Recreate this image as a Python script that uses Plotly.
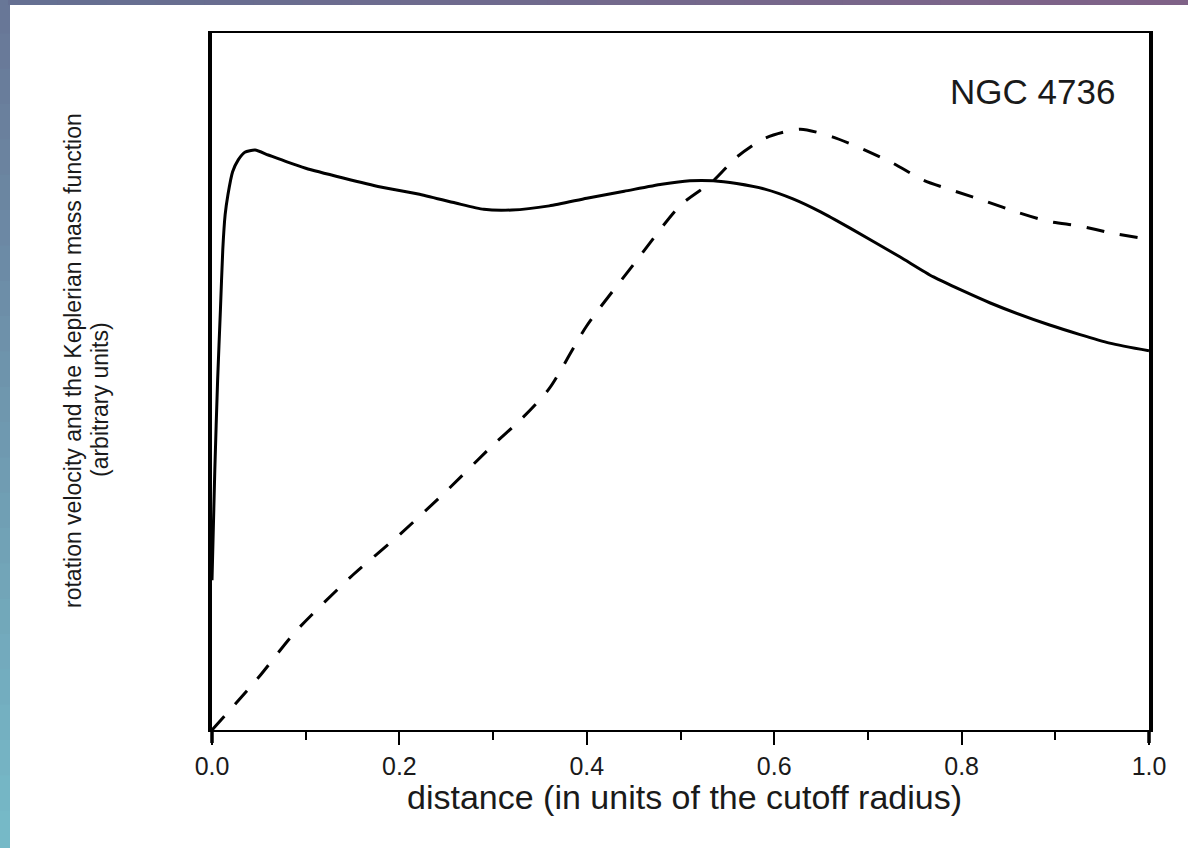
import plotly.graph_objects as go

# ---- data ----
solid_x = [0.0, 0.003, 0.006, 0.009, 0.0115, 0.014, 0.017, 0.022, 0.028, 0.035, 0.046,
           0.06, 0.08, 0.1, 0.14, 0.18, 0.22, 0.26, 0.29, 0.32, 0.36, 0.40, 0.44, 0.48,
           0.51, 0.535, 0.56, 0.59, 0.62, 0.65, 0.681, 0.734, 0.770, 0.830, 0.894, 0.958, 1.0]
solid_y = [0.215, 0.373, 0.502, 0.603, 0.689, 0.739, 0.768, 0.801, 0.818, 0.829, 0.832,
           0.825, 0.815, 0.806, 0.792, 0.779, 0.769, 0.756, 0.747, 0.746, 0.752, 0.763, 0.773, 0.783,
           0.788, 0.788, 0.784, 0.776, 0.762, 0.743, 0.720, 0.679, 0.650, 0.613, 0.581, 0.555, 0.544]

dash_x = [0.0, 0.05, 0.089, 0.15, 0.20, 0.251, 0.30, 0.33, 0.36, 0.40, 0.45, 0.50, 0.535,
          0.56, 0.59, 0.628, 0.662, 0.692, 0.727, 0.759, 0.793, 0.827, 0.859, 0.892, 0.926, 0.960, 1.0]
dash_y = [0.0, 0.076, 0.141, 0.222, 0.280, 0.344, 0.409, 0.446, 0.490, 0.580, 0.668, 0.753, 0.788,
          0.822, 0.849, 0.862, 0.851, 0.835, 0.813, 0.789, 0.773, 0.758, 0.743, 0.730, 0.723, 0.713, 0.704]

x_tickvals = [0.0, 0.2, 0.4, 0.6, 0.8, 1.0]
x_ticktext = ["0.0", "0.2", "0.4", "0.6", "0.8", "1.0"]

label_text = "NGC 4736"
x_title = "distance (in units of the cutoff radius)"
y_title_1 = "rotation velocity and the Keplerian mass function"
y_title_2 = "(arbitrary units)"

FONT = "Liberation Sans, Arial, sans-serif"

fig = go.Figure()
fig.add_trace(go.Scatter(x=solid_x, y=solid_y, mode="lines",
                         line=dict(color="black", width=3, shape="spline", smoothing=0.6),
                         showlegend=False, hoverinfo="skip"))
fig.add_trace(go.Scatter(x=dash_x, y=dash_y, mode="lines",
                         line=dict(color="black", width=3, dash="18px,16px", shape="spline", smoothing=0.7),
                         showlegend=False, hoverinfo="skip"))

# plot area geometry (pixels)
L, R, T, B = 212, 1149, 33, 730
W, H = 1188, 848
pw, ph = R - L, B - T


def px2x(px):
    return (px - L) / pw


def px2y(py):
    return (B - py) / ph


shapes = []
# gradient frame strips (decorative background)
n = 24
c_top = (104, 118, 150)
c_bot = (118, 186, 200)
for i in range(n):
    t = (i + 0.5) / n
    c = tuple(int(round(a + (b - a) * t)) for a, b in zip(c_top, c_bot))
    y0 = px2y(i * H / n - 2)
    y1 = px2y((i + 1) * H / n + 2)
    shapes.append(dict(type="rect", xref="paper", yref="paper", x0=px2x(-2), x1=px2x(10),
                       y0=y1, y1=y0, fillcolor="rgb(%d,%d,%d)" % c, line=dict(width=0), layer="below"))
c_l = (100, 112, 146)
c_r = (128, 98, 135)
for i in range(n):
    t = (i + 0.5) / n
    c = tuple(int(round(a + (b - a) * t)) for a, b in zip(c_l, c_r))
    x0 = px2x(10 + i * (W - 10) / n - 2)
    x1 = px2x(10 + (i + 1) * (W - 10) / n + 2)
    shapes.append(dict(type="rect", xref="paper", yref="paper", x0=x0, x1=x1,
                       y0=px2y(5), y1=px2y(-2), fillcolor="rgb(%d,%d,%d)" % c, line=dict(width=0), layer="below"))
# thick axis extensions at the corners
for xx in (0, 1):
    shapes.append(dict(type="line", xref="paper", yref="paper", x0=xx, x1=xx,
                       y0=0, y1=px2y(743), line=dict(color="black", width=3.5)))

fig.update_layout(
    width=W, height=H,
    margin=dict(l=L, r=W - R, t=T, b=H - B),
    paper_bgcolor="white", plot_bgcolor="white",
    font=dict(family=FONT, color="#1a1a1a"),
    xaxis=dict(range=[0, 1], showgrid=False, zeroline=False,
               showline=True, linecolor="black", linewidth=1.8, mirror=True,
               ticks="outside", ticklen=13, tickwidth=2, tickcolor="black",
               tickvals=x_tickvals, ticktext=x_ticktext,
               tickfont=dict(family=FONT, size=25, color="#1a1a1a"),
               minor=dict(dtick=0.1, tick0=0.1, ticks="outside", ticklen=8, tickwidth=2, tickcolor="black")),
    yaxis=dict(range=[0, 1], showgrid=False, zeroline=False,
               showline=True, linecolor="black", linewidth=3.5, mirror=True,
               ticks="", showticklabels=False),
    shapes=shapes,
    annotations=[
        dict(text=label_text, xref="paper", yref="paper", x=px2x(1032), y=px2y(92),
             xanchor="center", yanchor="middle", showarrow=False,
             font=dict(family=FONT, size=35, color="#1a1a1a")),
        dict(text=x_title, xref="paper", yref="paper", x=px2x(684), y=px2y(797),
             xanchor="center", yanchor="middle", showarrow=False,
             font=dict(family=FONT, size=34, color="#1a1a1a")),
        dict(text=y_title_1, xref="paper", yref="paper", x=px2x(73), y=px2y(361),
             xanchor="center", yanchor="middle", showarrow=False, textangle=-90,
             font=dict(family=FONT, size=23, color="#1a1a1a")),
        dict(text=y_title_2, xref="paper", yref="paper", x=px2x(100), y=px2y(400),
             xanchor="center", yanchor="middle", showarrow=False, textangle=-90,
             font=dict(family=FONT, size=23, color="#1a1a1a")),
    ],
)

fig.write_html("out.html")
